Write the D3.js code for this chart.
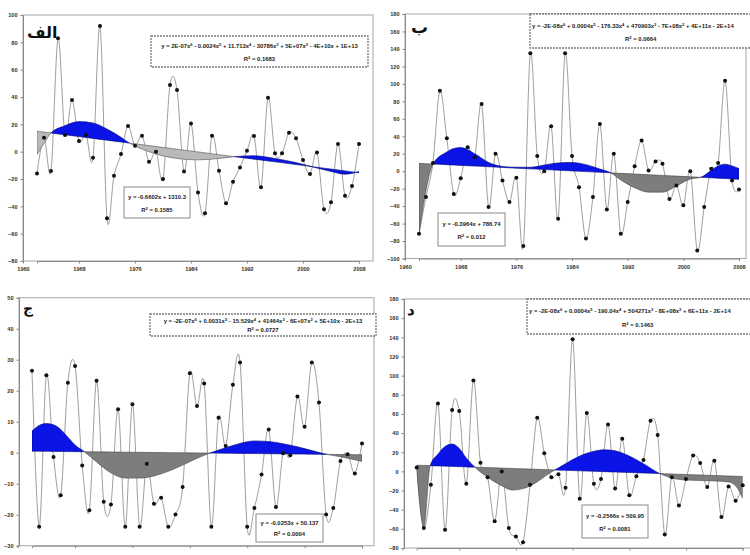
<!DOCTYPE html>
<html>
<head>
<meta charset="utf-8">
<script src="https://cdn.jsdelivr.net/npm/d3@7"></script>
<style>
  body { margin: 0; background: #fff; }
  svg { display: block; }
</style>
</head>
<body>
<svg id="chart" width="750" height="555"></svg>
<script>
// ---- shared categories ----
const years = d3.range(1962, 2009);
const xTickYears = [1960, 1968, 1976, 1984, 1992, 2000, 2008];

// ---- panel الف ----
const valuesAlef = [-15.9, 10.2, -14.1, 82.9, 12.2, 37.8, 7.8, 12.2, -4.4, 91.9,
  -48.8, -17.6, -1.7, 18.8, 4.4, 11.7, -7.3, 0, -20, 48.8,
  45.1, -14.6, 20.7, -29.8, -45.1, 11.7, -13.9, -37.8, -22, -11.5,
  0.7, 11.5, -26.1, 39.5, -1.2, -1.2, 13.9, 9.8, -6.1, -16.3,
  -0.7, -42.2, -37.1, 5.6, -32.2, -25.1, 5.6];
const yTicksAlef = [100, 80, 60, 40, 20, 0, -20, -40, -60, -80];
const polyYearsAlef  = [1962, 1963, 1964, 1966, 1968, 1970, 1972, 1974, 1975.2, 1978, 1982, 1985, 1988, 1990.2, 1993, 1996, 1999, 2002, 2004, 2006, 2008];
const polyValuesAlef = [-2, 6, 13.7, 19, 22, 21, 16.5, 10.5, 6.28, 0, -5, -6, -5, -3.64, -3, -5, -8, -12, -14.5, -16.5, -14.5];
const linearAlef = [-0.6602, 1310.3];
const spansAlef = [[1962, 1964, "below"], [1964, 1975.2, "above"], [1975.2, 1990.2, "below"], [1990.2, 2008, "above"]];
const polyEqAlef = ["y = 2E-07x^6 - 0.0024x^5 + 11.713x^4 - 30786x^3 + 5E+07x^2 - 4E+10x + 1E+13", "R^2 = 0.1683"];
const linEqAlef = ["y = -0.6602x + 1310.3", "R^2 = 0.1585"];

// ---- panel ب ----
const valuesBe = [-71.6, -29.7, 9.5, 92, 37.7, -26, -8, 27.4, 16, 77,
  -41, 20, -10.7, -35.4, -7.6, -85.7, 135, 17.5, 0, 51.4,
  -54.5, 135, 17.5, -18.3, -77, -29.7, 54, -43.8, 20, -71.6,
  -35.4, 5.7, 35, 0.8, 11, 8.4, -32, -16.4, -39, 0,
  -90.7, -41, 2.7, 9.5, 103.6, -10.7, -21];
const yTicksBe = [180, 160, 140, 120, 100, 80, 60, 40, 20, 0, -20, -40, -60, -80, -100];
const polyYearsBe  = [1962, 1963, 1964, 1966, 1967, 1968, 1970, 1972, 1974, 1976, 1978, 1980, 1982, 1984, 1986, 1988, 1989.6, 1991, 1993, 1995, 1997, 1999, 2001, 2002.5, 2004, 2005, 2006, 2007, 2008];
const polyValuesBe = [-72, -22, 8.2, 22, 26, 27, 20, 10, 5.5, 4.5, 4.5, 7, 9.5, 10, 7.5, 2.5, -1.96, -10, -19, -24, -24, -17, -9, -7.05, 1, 6, 8, 6, 3];
const linearBe = [-0.3964, 786.74];
const spansBe = [[1962, 1964, "below"], [1964, 1989.6, "above"], [1989.6, 2002.5, "below"], [2002.5, 2008, "above"]];
const polyEqBe = ["y = -2E-08x^6 + 0.0004x^5 - 176.33x^4 + 470903x^3 - 7E+08x^2 + 4E+11x - 2E+14", "R^2 = 0.0664"];
const linEqBe = ["y = -0.3964x + 786.74", "R^2 = 0.012"];

// ---- panel ج ----
const valuesJim = [26.4, -23.9, 25, -1.4, -13.7, 22.6, 28, -4.1, -18.6, 23.2,
  -15.8, -16.7, 14, -23.9, 15.6, -23.9, -3.6, -16.5, -14.5, -23.9,
  -19.9, -11.1, 25.6, 15.1, 22.3, -23.9, 11.3, 2.2, 21.9, 29.1,
  -23.9, -17.8, -7, 7.5, -17.5, -0.2, -0.8, 18.1, 8.4, 29.1,
  16.2, -19.9, -17.8, -2.7, -0.5, -6.7, 3];
const yTicksJim = [50, 40, 30, 20, 10, 0, -10, -20, -30];
const polyYearsJim  = [1962, 1963, 1964, 1965, 1966, 1967, 1968, 1969.3, 1971, 1973, 1975, 1977, 1979, 1981, 1983, 1985, 1986.8, 1989, 1991, 1993, 1995, 1997, 1999, 2001, 2003.1, 2005, 2006, 2007, 2008];
const polyValuesJim = [7, 8.8, 9.4, 9, 7.5, 5, 2.5, 0.31, -3, -6.5, -8.2, -8.2, -7.5, -6, -4, -1.8, -0.13, 1.6, 3, 3.8, 3.6, 2.9, 1.9, 0.7, -0.54, -1.3, -1.8, -2.3, -2.8];
const linearJim = [-0.0253, 50.137];
const spansJim = [[1962, 1969.3, "above"], [1969.3, 1986.8, "below"], [1986.8, 2003.1, "above"], [2003.1, 2008, "below"]];
const polyEqJim = ["y = -2E-07x^6 + 0.0031x^5 - 15.529x^4 + 41464x^3 - 6E+07x^2 + 5E+10x - 2E+13", "R^2 = 0.0727"];
const linEqJim = ["y = -0.0253x + 50.137", "R^2 = 0.0004"];

// ---- panel د ----
const valuesDal = [4, -59, -14, 71, -61, 64, 63, -13, 95, 9,
  -6, -52, 0, -59, -68, -74, -14, 56, 19, -6,
  -3, -17, 138, -28.5, 61, -13, -8, 49, -18, 34,
  -25, -5, 12, 53, 38, -66, -6, -35.5, -8, 16.7,
  8.7, -16.3, 11.1, -47.7, -15.7, -30.6, -14.6];
const yTicksDal = [180, 160, 140, 120, 100, 80, 60, 40, 20, 0, -20, -40, -60, -80];
const polyYearsDal  = [1962, 1963, 1963.9, 1965, 1966, 1967, 1968, 1969, 1970.2, 1972, 1974, 1975.5, 1977, 1979, 1980.5, 1981.5, 1983, 1985, 1987, 1988.5, 1990, 1992, 1994, 1996.3, 1998, 2000, 2002, 2004, 2006, 2007, 2008];
const polyValuesDal = [3, -58, 6.01, 18, 26, 28.5, 24, 14, 4.4, -6, -15, -19.5, -18, -11, -3, 1.5, 8, 16, 21, 22.5, 21.5, 16, 8, -2.3, -7, -9, -9.5, -10, -11, -15, -28];
const linearDal = [-0.2566, 509.95];
const spansDal = [[1962, 1963.9, "below"], [1963.9, 1970.2, "above"], [1970.2, 1981.5, "below"], [1981.5, 1996.3, "above"], [1996.3, 2008, "below"]];
const polyEqDal = ["y = -2E-08x^6 + 0.0004x^5 - 190.04x^4 + 504271x^3 - 8E+08x^2 + 6E+11x - 2E+14", "R^2 = 0.1463"];
const linEqDal = ["y = -0.2566x + 509.95", "R^2 = 0.0081"];

// ---- layout of the four panels ----
const panels = [
  { name: "الف", values: valuesAlef, yTicks: yTicksAlef, yDomain: [-80, 100],
    polyYears: polyYearsAlef, polyValues: polyValuesAlef, linear: linearAlef, spans: spansAlef,
    polyEq: polyEqAlef, linEq: linEqAlef, xLabels: true,
    left: 23, right: 373, top: 15, bottom: 261, firstX: 37, lastX: 359,
    grayFill: "#b9b9b9", grayStroke: "#555",
    label: [27, 38, 16], polyBox: [151, 36, 217, 31], polyAlign: "middle", linBox: [124, 187, 66, 31] },
  { name: "ب", values: valuesBe, yTicks: yTicksBe, yDomain: [-100, 180],
    polyYears: polyYearsBe, polyValues: polyValuesBe, linear: linearBe, spans: spansBe,
    polyEq: polyEqBe, linEq: linEqBe, xLabels: true,
    left: 405, right: 746, top: 14, bottom: 258.5, firstX: 419, lastX: 739,
    grayFill: "#7d7d7d", grayStroke: "#444",
    label: [411, 33, 17], polyBox: [530, 14, 225, 34], polyAlign: "start", linBox: [438, 213, 67, 33] },
  { name: "ج", values: valuesJim, yTicks: yTicksJim, yDomain: [-30, 50],
    polyYears: polyYearsJim, polyValues: polyValuesJim, linear: linearJim, spans: spansJim,
    polyEq: polyEqJim, linEq: linEqJim, xLabels: false,
    left: 19, right: 374, top: 297.7, bottom: 545.7, firstX: 32, lastX: 362,
    grayFill: "#7d7d7d", grayStroke: "#444",
    label: [23, 313, 14], polyBox: [150, 314, 226, 22], polyAlign: "middle", linBox: [256, 514, 67, 28] },
  { name: "د", values: valuesDal, yTicks: yTicksDal, yDomain: [-80, 180],
    polyYears: polyYearsDal, polyValues: polyValuesDal, linear: linearDal, spans: spansDal,
    polyEq: polyEqDal, linEq: linEqDal, xLabels: false,
    left: 404, right: 760, top: 299, bottom: 548, firstX: 416.7, lastX: 742.7,
    grayFill: "#7d7d7d", grayStroke: "#444",
    label: [407, 315, 15], polyBox: [527, 299, 228, 35], polyAlign: "start", linBox: [582, 505, 66, 33] }
];

const BLUE = "#0a14e6";
const EQ_FONT = "Liberation Sans, Arial, sans-serif";
const svg = d3.select("#chart");

// writes "x^6" style text with superscript tspans
function richText(sel, str) {
  str.split(/\^(\d)/).forEach((part, i) => {
    if (part === "") return;
    const t = sel.append("tspan").text(part);
    if (i % 2 === 1) t.attr("baseline-shift", "super").attr("font-size", "70%");
  });
}

function eqLine(g, x, y, anchor, str) {
  const t = g.append("text").attr("x", x).attr("y", y)
    .attr("text-anchor", anchor).attr("font-family", EQ_FONT)
    .attr("font-size", "5.9px").attr("font-weight", "bold").attr("fill", "#222");
  richText(t, str);
}

panels.forEach((p, pi) => {
  const g = svg.append("g");
  const x = d3.scaleLinear().domain([1962, 2008]).range([p.firstX, p.lastX]);
  const y = d3.scaleLinear().domain(p.yDomain).range([p.bottom, p.top]);
  const clipId = "plot-clip-" + pi;

  g.append("clipPath").attr("id", clipId)
    .append("rect").attr("x", p.left).attr("y", p.top)
    .attr("width", p.right - p.left).attr("height", p.bottom - p.top);

  // plot area frame
  g.append("rect")
    .attr("x", p.left).attr("y", p.top)
    .attr("width", p.right - p.left).attr("height", p.bottom - p.top)
    .attr("fill", "#fff").attr("stroke", "#a5a5a5").attr("stroke-width", 1);

  // axes
  const yAxis = d3.axisLeft(y).tickValues(p.yTicks).tickSize(2.5).tickPadding(3).tickFormat(d3.format("d"));
  const ya = g.append("g").attr("transform", `translate(${p.left},0)`).call(yAxis);
  const xAxis = d3.axisBottom(x).tickValues(xTickYears).tickSize(2.5).tickPadding(4)
    .tickFormat(p.xLabels ? d3.format("d") : () => "");
  const xa = g.append("g").attr("transform", `translate(0,${p.bottom})`).call(xAxis);
  [ya, xa].forEach(a => {
    a.select(".domain").attr("stroke", "#8a8a8a");
    a.selectAll(".tick line").attr("stroke", "#8a8a8a");
    a.selectAll(".tick text")
      .attr("font-family", EQ_FONT)
      .attr("font-size", "5.6px").attr("font-weight", "bold").attr("fill", "#333");
  });

  const plot = g.append("g").attr("clip-path", `url(#${clipId})`);

  // observed series: smoothed thin line
  const line = d3.line()
    .x((d, i) => x(years[i])).y(d => y(d))
    .curve(d3.curveCatmullRom.alpha(0));
  plot.append("path").datum(p.values)
    .attr("d", line).attr("fill", "none")
    .attr("stroke", "#858585").attr("stroke-width", 0.8);

  // shaded bands between polynomial and linear trends
  const lin = yr => p.linear[0] * yr + p.linear[1];
  const knots = p.polyYears.map((yr, i) => ({ yr, poly: p.polyValues[i], lin: lin(yr) }));
  const area = d3.area()
    .x(d => x(d.yr)).y0(d => y(d.lin)).y1(d => y(d.poly))
    .curve(d3.curveMonotoneX);
  p.spans.forEach(([a, b, kind], k) => {
    const sid = `span-${pi}-${k}`;
    plot.append("clipPath").attr("id", sid)
      .append("rect").attr("x", x(a)).attr("y", p.top)
      .attr("width", x(b) - x(a)).attr("height", p.bottom - p.top);
    plot.append("path").datum(knots)
      .attr("d", area)
      .attr("clip-path", `url(#${sid})`)
      .attr("fill", kind === "above" ? BLUE : p.grayFill)
      .attr("stroke", kind === "above" ? "#00087a" : p.grayStroke)
      .attr("stroke-width", 0.6);
  });

  // observed points
  plot.selectAll("circle.pt").data(p.values).join("circle")
    .attr("class", "pt")
    .attr("cx", (d, i) => x(years[i])).attr("cy", d => y(d))
    .attr("r", 2).attr("fill", "#111");

  // panel letter
  g.append("text")
    .attr("x", p.label[0]).attr("y", p.label[1])
    .attr("font-family", "DejaVu Sans, sans-serif").attr("font-weight", "bold")
    .attr("font-size", p.label[2] + "px").attr("fill", "#111")
    .attr("text-anchor", "start")
    .text(p.name);

  // polynomial equation box
  const [bx, by, bw, bh] = p.polyBox;
  g.append("rect").attr("x", bx).attr("y", by).attr("width", bw).attr("height", bh)
    .attr("fill", "#fff").attr("stroke", "#7a7a7a").attr("stroke-width", 1.3)
    .attr("stroke-dasharray", "2,1");
  const ex = p.polyAlign === "start" ? bx + 2 : bx + bw / 2;
  eqLine(g, ex, by + bh * 0.4, p.polyAlign, p.polyEq[0]);
  eqLine(g, p.polyAlign === "start" ? bx + 95 : bx + bw / 2, by + bh * 0.8, p.polyAlign === "start" ? "start" : "middle", p.polyEq[1]);

  // linear equation box
  const [lx, ly, lw, lh] = p.linBox;
  g.append("rect").attr("x", lx).attr("y", ly).attr("width", lw).attr("height", lh)
    .attr("fill", "#fff").attr("stroke", "#8a8a8a").attr("stroke-width", 1);
  eqLine(g, lx + lw / 2, ly + lh * 0.4, "middle", p.linEq[0]);
  eqLine(g, lx + lw / 2, ly + lh * 0.8, "middle", p.linEq[1]);
});
</script>
</body>
</html>
